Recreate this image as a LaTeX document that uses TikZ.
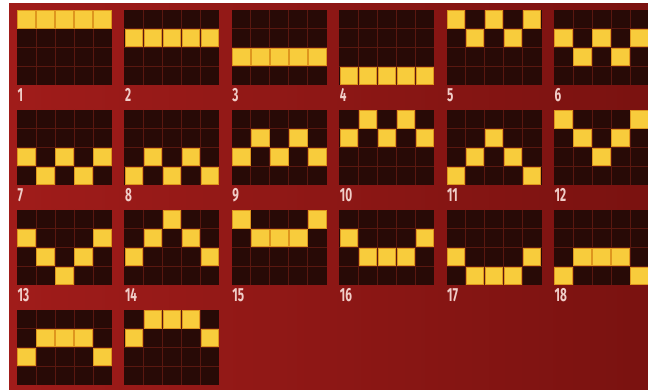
\documentclass[tikz,border=0pt]{standalone}
\usepackage{fontspec}
\setmainfont{Fira Sans}
\definecolor{bgL}{RGB}{160,28,26}
\definecolor{bgR}{RGB}{122,18,16}
\definecolor{cellbg}{RGB}{40,10,6}
\definecolor{gridln}{RGB}{90,24,16}
\definecolor{yel}{RGB}{248,204,60}
\definecolor{ora}{RGB}{222,150,30}
\definecolor{labc}{RGB}{240,205,200}
\tikzset{
  gridline/.style={draw=gridln, line width=0.7pt},
  hit/.style={fill=yel, draw=ora, line width=0.8pt},
  lab/.style={text=labc, font=\fontsize{19}{19}\selectfont\bfseries, xscale=0.62, inner sep=0pt, anchor=west}
}
\begin{document}
\begin{tikzpicture}[x=1pt,y=-1pt]
\useasboundingbox (0,0) rectangle (648,390);
\fill[white] (0,0) rectangle (648,390);
\shade[left color=bgL, right color=bgR] (9,4) rectangle (648,390);
\foreach \n/\ya/\yb/\yc/\yd/\ye in {
 1/0/0/0/0/0, 2/1/1/1/1/1, 3/2/2/2/2/2, 4/3/3/3/3/3, 5/0/1/0/1/0, 6/1/2/1/2/1,
 7/2/3/2/3/2, 8/3/2/3/2/3, 9/2/1/2/1/2, 10/1/0/1/0/1, 11/3/2/1/2/3, 12/0/1/2/1/0,
 13/1/2/3/2/1, 14/2/1/0/1/2, 15/0/1/1/1/0, 16/1/2/2/2/1, 17/2/3/3/3/2, 18/3/2/2/2/3,
 19/2/1/1/1/2, 20/1/0/0/0/1}{
  \pgfmathsetmacro\px{17+107.4*mod(\n-1,6)}
  \pgfmathsetmacro\py{10+100*floor((\n-1)/6)}
  \fill[cellbg] (\px,\py) rectangle ++(95,75);
  \foreach \i in {1,...,4}{\draw[gridline] (\px+19*\i,\py) -- ++(0,75);}
  \foreach \j in {1,2,3}{\draw[gridline] (\px,\py+18.75*\j) -- ++(95,0);}
  \foreach \cc/\rr in {0/\ya,1/\yb,2/\yc,3/\yd,4/\ye}{
    \path[hit] (\px+19*\cc+0.8,\py+18.75*\rr+0.8) rectangle ++(17.4,17.15);
  }
  \ifnum\n<19
    \node[lab] (lab\n) at (\px+0.5,\py+85) {\n};
  \fi
}
\end{tikzpicture}
\end{document}
